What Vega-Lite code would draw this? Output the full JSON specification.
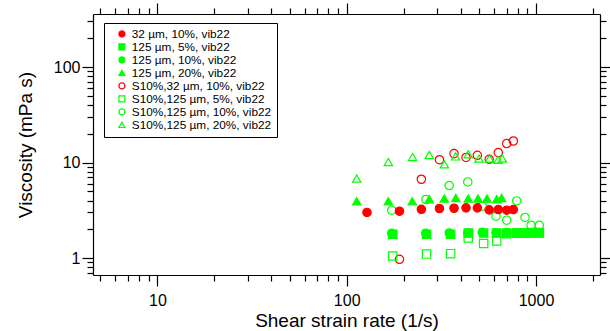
{
  "$schema": "https://vega.github.io/schema/vega-lite/v6.json",
  "width": 507,
  "height": 261,
  "autosize": {"type": "none"},
  "padding": {"left": 93, "top": 14, "right": 10, "bottom": 56},
  "background": "white",
  "config": {
    "view": {"stroke": null},
    "font": "Liberation Sans",
    "axis": {
      "grid": false,
      "domainColor": "black",
      "domainWidth": 1.2,
      "tickColor": "black",
      "tickWidth": 1.2,
      "labelColor": "black",
      "labelFont": "Liberation Sans",
      "labelFontSize": 16,
      "labelOverlap": false,
      "labelBound": false,
      "labelFlush": false,
      "titleFont": "Liberation Sans",
      "titleFontSize": 19,
      "titleFontWeight": "normal",
      "titleColor": "black"
    },
    "legend": {
      "title": null,
      "strokeColor": "black",
      "fillColor": "white",
      "padding": 5,
      "symbolSize": 36,
      "symbolStrokeWidth": 1.2,
      "labelFontSize": 11.8,
      "labelFont": "Liberation Sans",
      "labelColor": "black",
      "rowPadding": -1.3,
      "symbolOffset": 7,
      "labelOffset": 4,
      "labelLimit": 300
    }
  },
  "data": {
    "values": [
      {"series": "S10%,32 µm, 10%, vib22", "rate": 190, "visc": 0.97},
      {"series": "S10%,32 µm, 10%, vib22", "rate": 248, "visc": 6.68},
      {"series": "S10%,32 µm, 10%, vib22", "rate": 309, "visc": 10.7},
      {"series": "S10%,32 µm, 10%, vib22", "rate": 369, "visc": 12.4},
      {"series": "S10%,32 µm, 10%, vib22", "rate": 427, "visc": 11.3},
      {"series": "S10%,32 µm, 10%, vib22", "rate": 490, "visc": 11.9},
      {"series": "S10%,32 µm, 10%, vib22", "rate": 566, "visc": 10.8},
      {"series": "S10%,32 µm, 10%, vib22", "rate": 632, "visc": 12.7},
      {"series": "S10%,32 µm, 10%, vib22", "rate": 700, "visc": 15.8},
      {"series": "S10%,32 µm, 10%, vib22", "rate": 759, "visc": 16.8},

      {"series": "S10%,125 µm, 5%, vib22", "rate": 175, "visc": 1.05},
      {"series": "S10%,125 µm, 5%, vib22", "rate": 264, "visc": 1.1},
      {"series": "S10%,125 µm, 5%, vib22", "rate": 354, "visc": 1.11},
      {"series": "S10%,125 µm, 5%, vib22", "rate": 439, "visc": 1.62},
      {"series": "S10%,125 µm, 5%, vib22", "rate": 529, "visc": 1.42},
      {"series": "S10%,125 µm, 5%, vib22", "rate": 620, "visc": 1.51},
      {"series": "S10%,125 µm, 5%, vib22", "rate": 700, "visc": 1.8},
      {"series": "S10%,125 µm, 5%, vib22", "rate": 791, "visc": 1.82},
      {"series": "S10%,125 µm, 5%, vib22", "rate": 875, "visc": 1.82},
      {"series": "S10%,125 µm, 5%, vib22", "rate": 941, "visc": 1.85},
      {"series": "S10%,125 µm, 5%, vib22", "rate": 1041, "visc": 1.85},

      {"series": "S10%,125 µm, 10%, vib22", "rate": 173, "visc": 3.17},
      {"series": "S10%,125 µm, 10%, vib22", "rate": 262, "visc": 4.1},
      {"series": "S10%,125 µm, 10%, vib22", "rate": 348, "visc": 5.74},
      {"series": "S10%,125 µm, 10%, vib22", "rate": 436, "visc": 6.26},
      {"series": "S10%,125 µm, 10%, vib22", "rate": 520, "visc": 3.49},
      {"series": "S10%,125 µm, 10%, vib22", "rate": 615, "visc": 2.74},
      {"series": "S10%,125 µm, 10%, vib22", "rate": 700, "visc": 2.49},
      {"series": "S10%,125 µm, 10%, vib22", "rate": 791, "visc": 3.96},
      {"series": "S10%,125 µm, 10%, vib22", "rate": 875, "visc": 2.66},
      {"series": "S10%,125 µm, 10%, vib22", "rate": 941, "visc": 2.2},
      {"series": "S10%,125 µm, 10%, vib22", "rate": 1041, "visc": 2.2},

      {"series": "S10%,125 µm, 20%, vib22", "rate": 113, "visc": 6.8},
      {"series": "S10%,125 µm, 20%, vib22", "rate": 166, "visc": 10.1},
      {"series": "S10%,125 µm, 20%, vib22", "rate": 223, "visc": 11.4},
      {"series": "S10%,125 µm, 20%, vib22", "rate": 273, "visc": 12.0},
      {"series": "S10%,125 µm, 20%, vib22", "rate": 328, "visc": 9.6},
      {"series": "S10%,125 µm, 20%, vib22", "rate": 376, "visc": 11.6},
      {"series": "S10%,125 µm, 20%, vib22", "rate": 439, "visc": 12.2},
      {"series": "S10%,125 µm, 20%, vib22", "rate": 500, "visc": 11.0},
      {"series": "S10%,125 µm, 20%, vib22", "rate": 568, "visc": 11.0},
      {"series": "S10%,125 µm, 20%, vib22", "rate": 630, "visc": 10.7},
      {"series": "S10%,125 µm, 20%, vib22", "rate": 664, "visc": 11.0},

      {"series": "32 µm, 10%, vib22", "rate": 128, "visc": 3.0},
      {"series": "32 µm, 10%, vib22", "rate": 190, "visc": 3.09},
      {"series": "32 µm, 10%, vib22", "rate": 248, "visc": 3.24},
      {"series": "32 µm, 10%, vib22", "rate": 309, "visc": 3.3},
      {"series": "32 µm, 10%, vib22", "rate": 369, "visc": 3.32},
      {"series": "32 µm, 10%, vib22", "rate": 427, "visc": 3.35},
      {"series": "32 µm, 10%, vib22", "rate": 490, "visc": 3.35},
      {"series": "32 µm, 10%, vib22", "rate": 566, "visc": 3.19},
      {"series": "32 µm, 10%, vib22", "rate": 632, "visc": 3.22},
      {"series": "32 µm, 10%, vib22", "rate": 700, "visc": 3.17},
      {"series": "32 µm, 10%, vib22", "rate": 759, "visc": 3.22},

      {"series": "125 µm, 5%, vib22", "rate": 175, "visc": 1.77},
      {"series": "125 µm, 5%, vib22", "rate": 264, "visc": 1.77},
      {"series": "125 µm, 5%, vib22", "rate": 354, "visc": 1.77},
      {"series": "125 µm, 5%, vib22", "rate": 439, "visc": 1.83},
      {"series": "125 µm, 5%, vib22", "rate": 529, "visc": 1.83},
      {"series": "125 µm, 5%, vib22", "rate": 620, "visc": 1.83},
      {"series": "125 µm, 5%, vib22", "rate": 700, "visc": 1.83},
      {"series": "125 µm, 5%, vib22", "rate": 791, "visc": 1.83},
      {"series": "125 µm, 5%, vib22", "rate": 875, "visc": 1.83},
      {"series": "125 µm, 5%, vib22", "rate": 941, "visc": 1.83},
      {"series": "125 µm, 5%, vib22", "rate": 1041, "visc": 1.83},

      {"series": "125 µm, 10%, vib22", "rate": 173, "visc": 1.81},
      {"series": "125 µm, 10%, vib22", "rate": 262, "visc": 1.81},
      {"series": "125 µm, 10%, vib22", "rate": 348, "visc": 1.83},
      {"series": "125 µm, 10%, vib22", "rate": 436, "visc": 1.83},
      {"series": "125 µm, 10%, vib22", "rate": 520, "visc": 1.86},
      {"series": "125 µm, 10%, vib22", "rate": 615, "visc": 1.84},
      {"series": "125 µm, 10%, vib22", "rate": 700, "visc": 1.84},
      {"series": "125 µm, 10%, vib22", "rate": 791, "visc": 1.84},
      {"series": "125 µm, 10%, vib22", "rate": 875, "visc": 1.84},
      {"series": "125 µm, 10%, vib22", "rate": 941, "visc": 1.84},
      {"series": "125 µm, 10%, vib22", "rate": 1041, "visc": 1.84},

      {"series": "125 µm, 20%, vib22", "rate": 113, "visc": 3.93},
      {"series": "125 µm, 20%, vib22", "rate": 166, "visc": 3.93},
      {"series": "125 µm, 20%, vib22", "rate": 222, "visc": 3.93},
      {"series": "125 µm, 20%, vib22", "rate": 273, "visc": 4.13},
      {"series": "125 µm, 20%, vib22", "rate": 328, "visc": 4.2},
      {"series": "125 µm, 20%, vib22", "rate": 377, "visc": 4.26},
      {"series": "125 µm, 20%, vib22", "rate": 439, "visc": 4.2},
      {"series": "125 µm, 20%, vib22", "rate": 494, "visc": 4.2},
      {"series": "125 µm, 20%, vib22", "rate": 551, "visc": 4.2},
      {"series": "125 µm, 20%, vib22", "rate": 620, "visc": 4.13},
      {"series": "125 µm, 20%, vib22", "rate": 658, "visc": 4.26}
    ]
  },
  "layer": [
    {
      "mark": {"type": "point", "size": 70, "strokeWidth": 1.2, "opacity": 1},
      "encoding": {
        "x": {
          "field": "rate", "type": "quantitative",
          "scale": {"type": "log", "domain": [4.57, 2178], "nice": false, "zero": false},
          "axis": {
            "orient": "bottom",
            "values": [5,6,7,8,9,10,20,30,40,50,60,70,80,90,100,200,300,400,500,600,700,800,900,1000,2000],
            "format": "~g",
            "labelExpr": "datum.value == 10 || datum.value == 100 || datum.value == 1000 ? datum.label : ''",
            "tickSize": {"condition": {"test": "datum.value == 10 || datum.value == 100 || datum.value == 1000", "value": 11}, "value": 6},
            "labelPadding": 6,
            "title": "Shear strain rate (1/s)",
            "titleY": 51.5,
            "titleBaseline": "alphabetic"
          }
        },
        "y": {
          "field": "visc", "type": "quantitative",
          "scale": {"type": "log", "domain": [0.664, 359], "nice": false, "zero": false},
          "axis": {
            "orient": "left",
            "values": [0.7,0.8,0.9,1,2,3,4,5,6,7,8,9,10,20,30,40,50,60,70,80,90,100,200,300],
            "format": "~g",
            "labelExpr": "datum.value == 1 || datum.value == 10 || datum.value == 100 ? datum.label : ''",
            "tickSize": {"condition": {"test": "datum.value == 1 || datum.value == 10 || datum.value == 100", "value": 11}, "value": 6},
            "labelPadding": 2,
            "title": "Viscosity (mPa s)",
            "titleX": -68,
            "titleBaseline": "middle"
          }
        },
        "shape": {
          "field": "series", "type": "nominal",
          "scale": {
            "domain": ["32 µm, 10%, vib22", "125 µm, 5%, vib22", "125 µm, 10%, vib22", "125 µm, 20%, vib22", "S10%,32 µm, 10%, vib22", "S10%,125 µm, 5%, vib22", "S10%,125 µm, 10%, vib22", "S10%,125 µm, 20%, vib22"],
            "range": ["circle", "square", "circle", "triangle-up", "circle", "square", "circle", "triangle-up"]
          },
          "legend": {"title": null, "orient": "none", "legendX": 11, "legendY": 9}
        },
        "stroke": {
          "field": "series", "type": "nominal",
          "scale": {
            "domain": ["32 µm, 10%, vib22", "125 µm, 5%, vib22", "125 µm, 10%, vib22", "125 µm, 20%, vib22", "S10%,32 µm, 10%, vib22", "S10%,125 µm, 5%, vib22", "S10%,125 µm, 10%, vib22", "S10%,125 µm, 20%, vib22"],
            "range": ["#ff0000", "#00ff00", "#00ff00", "#00ff00", "#ff0000", "#00ff00", "#00ff00", "#00ff00"]
          },
          "legend": {"title": null, "orient": "none", "legendX": 11, "legendY": 9}
        },
        "fill": {
          "field": "series", "type": "nominal",
          "scale": {
            "domain": ["32 µm, 10%, vib22", "125 µm, 5%, vib22", "125 µm, 10%, vib22", "125 µm, 20%, vib22", "S10%,32 µm, 10%, vib22", "S10%,125 µm, 5%, vib22", "S10%,125 µm, 10%, vib22", "S10%,125 µm, 20%, vib22"],
            "range": ["#ff0000", "#00ff00", "#00ff00", "#00ff00", "transparent", "transparent", "transparent", "transparent"]
          },
          "legend": {"title": null, "orient": "none", "legendX": 11, "legendY": 9}
        }
      }
    },
    {
      "mark": {"type": "point", "opacity": 0},
      "encoding": {
        "x": {
          "field": "rate", "type": "quantitative",
          "scale": {"type": "log", "domain": [4.57, 2178], "nice": false, "zero": false},
          "axis": {
            "orient": "top",
            "values": [5,6,7,8,9,10,20,30,40,50,60,70,80,90,100,200,300,400,500,600,700,800,900,1000,2000],
            "labels": false,
            "tickSize": {"condition": {"test": "datum.value == 10 || datum.value == 100 || datum.value == 1000", "value": 11}, "value": 6},
            "title": null
          }
        },
        "y": {
          "field": "visc", "type": "quantitative",
          "scale": {"type": "log", "domain": [0.664, 359], "nice": false, "zero": false},
          "axis": {
            "orient": "right",
            "values": [0.7,0.8,0.9,1,2,3,4,5,6,7,8,9,10,20,30,40,50,60,70,80,90,100,200,300],
            "labels": false,
            "tickSize": {"condition": {"test": "datum.value == 1 || datum.value == 10 || datum.value == 100", "value": 11}, "value": 6},
            "title": null
          }
        }
      }
    }
  ],
  "resolve": {"axis": {"x": "independent", "y": "independent"}}
}
